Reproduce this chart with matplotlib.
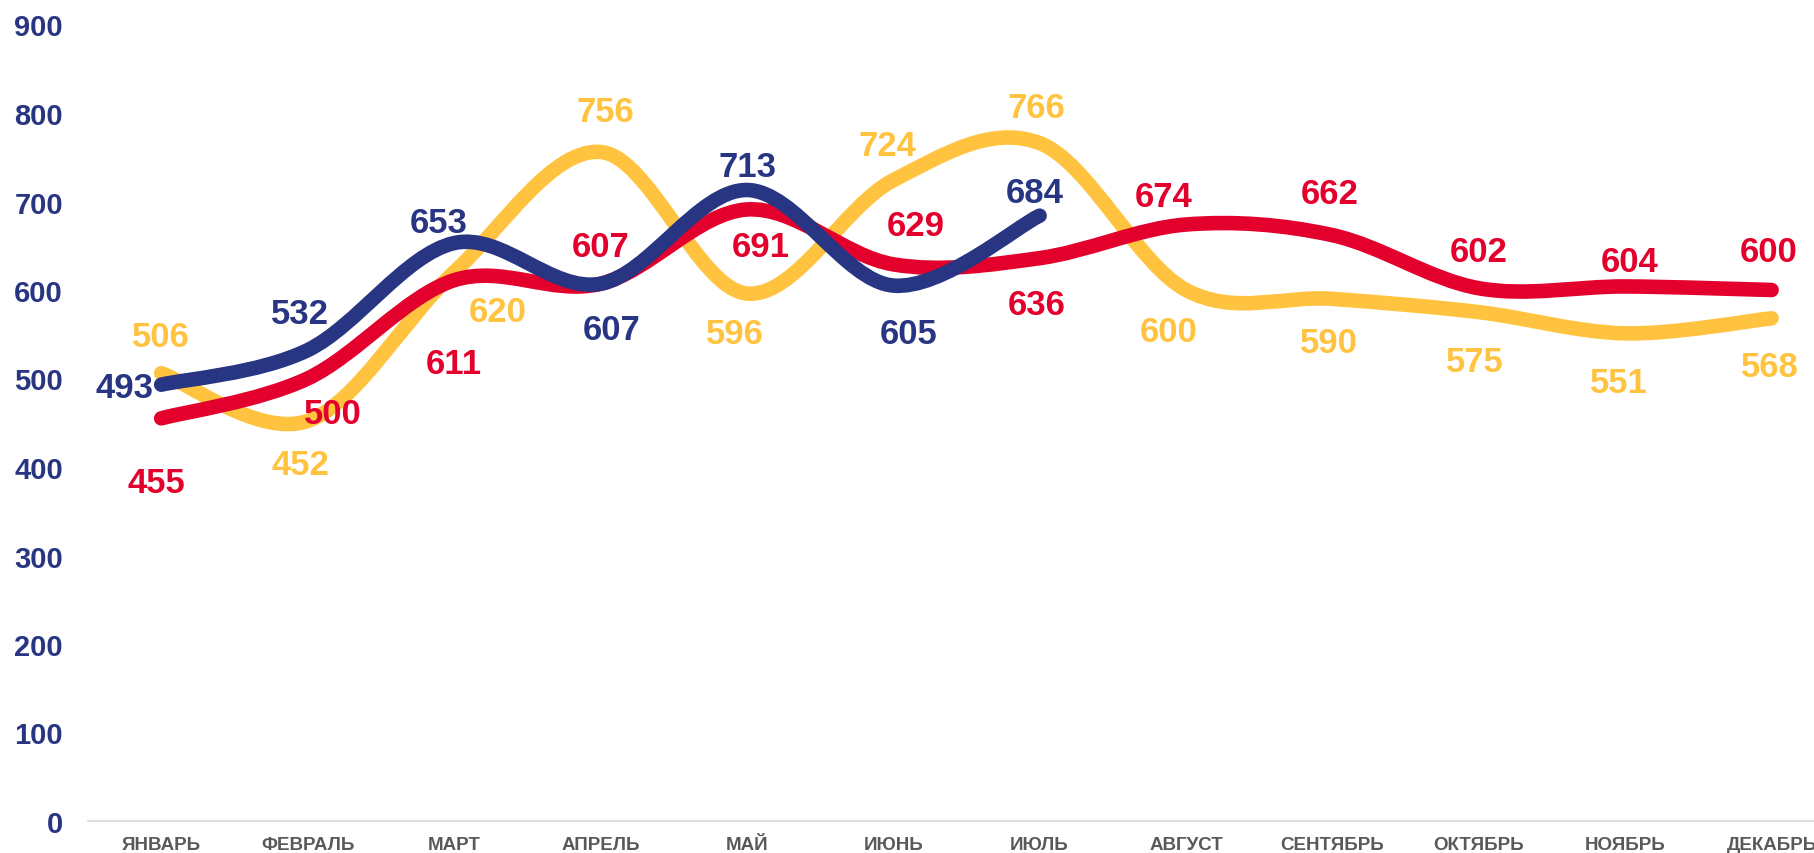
import numpy as np
import matplotlib
matplotlib.use('Agg')
import matplotlib.pyplot as plt
from matplotlib.path import Path
from matplotlib.patches import PathPatch
from matplotlib import font_manager

# ---------------- data ----------------
months = ['ЯНВАРЬ', 'ФЕВРАЛЬ', 'МАРТ', 'АПРЕЛЬ', 'МАЙ', 'ИЮНЬ', 'ИЮЛЬ',
          'АВГУСТ', 'СЕНТЯБРЬ', 'ОКТЯБРЬ', 'НОЯБРЬ', 'ДЕКАБРЬ']
yellow_vals = [506, 452, 620, 756, 596, 724, 766, 600, 590, 575, 551, 568]
red_vals = [455, 500, 611, 607, 691, 629, 636, 674, 662, 602, 604, 600]
navy_vals = [493, 532, 653, 607, 713, 605, 684]
y_ticks = [0, 100, 200, 300, 400, 500, 600, 700, 800, 900]

# ---------------- style ----------------
YELLOW = '#FFC340'
RED = '#E3002C'
NAVY = '#283583'
GREY = '#595959'

# label offsets (pixels, dx right, dy down) from each point
yellow_off = [(0, -40), (-7, 41), (44, 36), (5, -43), (-12, 37), (-6, -38),
              (-3, -39), (-17, 38), (-3, 41), (-4, 46), (-6, 46), (-2, 45)]
red_off = [(-5, 61), (25, 32), (0, 80), (0, -40), (14, 34), (23, -42),
           (-3, 43), (-22, -31), (-3, -45), (0, -40), (4, -28), (-3, -42)]
navy_off = [None, (-8, -40), (-15, -24), (11, 43), (1, -26), (15, 45), (-5, -26)]

DPI = 100
W, H = 1815, 854
fig = plt.figure(figsize=(W / DPI, H / DPI), dpi=DPI)
fig.patch.set_facecolor('white')

left_px, bottom_px = 88, 822
top_px = 25.5
slot = 146.4
ax = fig.add_axes([left_px / W, (H - bottom_px) / H,
                   12 * slot / W, (bottom_px - top_px) / H])
ax.set_xlim(-0.5, 11.5)
ax.set_ylim(0, 900)
ax.patch.set_alpha(0)


def smooth_path(xs, ys):
    pts = np.column_stack([xs, ys]).astype(float)
    n = len(pts)
    verts = [pts[0]]
    codes = [Path.MOVETO]
    for i in range(n - 1):
        p0 = pts[i - 1] if i > 0 else pts[i]
        p1 = pts[i]
        p2 = pts[i + 1]
        p3 = pts[i + 2] if i + 2 < n else pts[i + 1]
        c1 = p1 + (p2 - p0) / 6.0
        c2 = p2 - (p3 - p1) / 6.0
        verts += [c1, c2, p2]
        codes += [Path.CURVE4] * 3
    return Path(verts, codes)


LW = 10.5
for vals, col, z in [(yellow_vals, YELLOW, 2), (red_vals, RED, 3), (navy_vals, NAVY, 4)]:
    xs = np.arange(len(vals))
    patch = PathPatch(smooth_path(xs, vals), fill=False, edgecolor=col,
                      lw=LW, capstyle='round', joinstyle='round', zorder=z)
    ax.add_patch(patch)

px2pt = 72.0 / DPI
CAP = 12.5  # half digit height in px
LABEL_FS = 25


def add_labels(vals, offs, col):
    for i, (v, off) in enumerate(zip(vals, offs)):
        if off is None:
            ax.annotate(str(v), (i, v), xytext=(-8 * px2pt, -CAP * px2pt),
                        textcoords='offset points', ha='right', va='baseline',
                        fontsize=LABEL_FS, fontweight='bold', color=col,
                        family=['Liberation Sans', 'DejaVu Sans'], zorder=6,
                        annotation_clip=False)
            continue
        dx, dy = off
        ax.annotate(str(v), (i, v), xytext=(dx * px2pt, -(dy + CAP) * px2pt),
                    textcoords='offset points', ha='center', va='baseline',
                    fontsize=LABEL_FS, fontweight='bold', color=col,
                    family=['Liberation Sans', 'DejaVu Sans'], zorder=6,
                    annotation_clip=False)


add_labels(yellow_vals, yellow_off, YELLOW)
add_labels(red_vals, red_off, RED)
add_labels(navy_vals, navy_off, NAVY)

# axes styling
for s in ['left', 'right', 'top']:
    ax.spines[s].set_visible(False)
ax.spines['bottom'].set_color('#D9D9D9')
ax.spines['bottom'].set_linewidth(1.2)

ax.set_yticks(y_ticks)
ax.set_yticklabels([str(t) for t in y_ticks])
ax.set_xticks(range(len(months)))
ax.set_xticklabels(months)
ax.tick_params(axis='both', length=0)
ax.tick_params(axis='y', pad=18)
ax.tick_params(axis='x', pad=11)

installed = {f.name for f in font_manager.fontManager.ttflist}
narrow = 'Liberation Sans Narrow' in installed

for lab in ax.get_yticklabels():
    lab.set_fontsize(21)
    lab.set_fontweight('bold')
    lab.set_color(NAVY)
    lab.set_family(['Liberation Sans', 'DejaVu Sans'])
for lab in ax.get_xticklabels():
    lab.set_fontweight('bold')
    lab.set_color(GREY)
    if narrow:
        lab.set_fontsize(14.5)
        lab.set_family(['Liberation Sans Narrow', 'DejaVu Sans'])
    else:
        lab.set_fontsize(13.5)
        lab.set_family(['Liberation Sans', 'DejaVu Sans'])

fig.savefig('out.png', dpi=DPI, facecolor='white')
